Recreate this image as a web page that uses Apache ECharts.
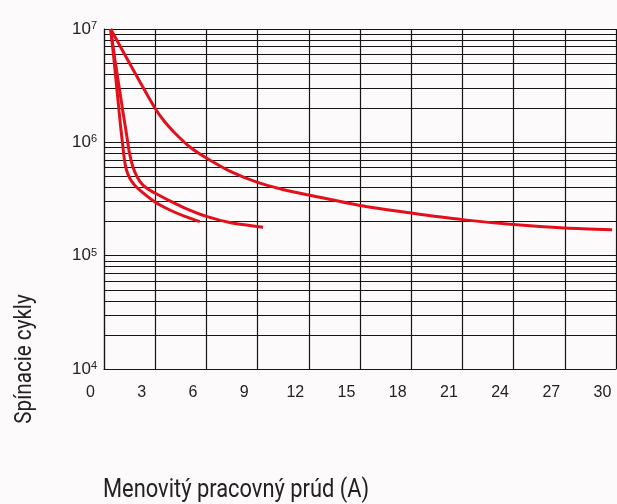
<!DOCTYPE html>
<html>
<head>
<meta charset="utf-8">
<script src="https://cdn.jsdelivr.net/npm/echarts@6/dist/echarts.min.js"></script>
<style>
html,body{margin:0;padding:0;background:#fdfafc;}
#c{width:617px;height:504px;}
</style>
</head>
<body>
<div id="c"></div>
<script>
// X tick labels (current, A)
var xTicks = [0, 3, 6, 9, 12, 15, 18, 21, 24, 27, 30];
// Y decade exponents
var yExponents = [4, 5, 6, 7];
// Minor grid multipliers per decade
var minorMultipliers = [2, 3, 4, 5, 6, 7, 8, 9];
var minorDecades = [1e4, 1e5, 1e6];

// Curve 1 (longest)
var c1x = [0.39, 1.23, 2.11, 2.98, 3.57, 4.15, 5.03, 6.0, 7.37, 9.0, 10.47, 12.0, 15.0, 18.0, 21.0, 24.0, 27.0, 29.77];
var c1y = [1.0e7, 5.9e6, 3.4e6, 2.01e6, 1.51e6, 1.21e6, 9.1e5, 7.28e5, 5.58e5, 4.43e5, 3.84e5, 3.43e5, 2.77e5, 2.38e5, 2.08e5, 1.88e5, 1.75e5, 1.69e5];
// Curve 2 (middle)
var c2x = [0.39, 0.643, 0.895, 1.111, 1.316, 1.491, 1.696, 1.93, 2.222, 2.573, 2.982, 3.86, 4.737, 6.006, 7.368, 9.316];
var c2y = [1.0e7, 5.33e6, 3.01e6, 1.85e6, 1.19e6, 8.05e5, 6.06e5, 5.0e5, 4.29e5, 3.87e5, 3.57e5, 3.04e5, 2.63e5, 2.22e5, 1.96e5, 1.78e5];
// Curve 3 (shortest)
var c3x = [0.39, 0.556, 0.702, 0.848, 0.965, 1.082, 1.199, 1.316, 1.52, 1.813, 2.398, 2.982, 3.86, 4.737, 5.614];
var c3y = [1.0e7, 5.9e6, 3.55e6, 2.13e6, 1.42e6, 9.87e5, 6.98e5, 5.7e5, 4.8e5, 4.16e5, 3.47e5, 2.98e5, 2.53e5, 2.22e5, 2.0e5];

function pairs(xs, ys){ return xs.map(function(x,i){ return [x, ys[i]]; }); }

var minorLines = [];
minorDecades.forEach(function(d){
  minorMultipliers.forEach(function(m){ minorLines.push({yAxis: m*d}); });
});

var gridColor = '#151515';
var red = '#e3101b';
var font = "'Liberation Sans', Arial, sans-serif";
var titleFont = "Roboto, 'Liberation Sans', sans-serif";

var chart = echarts.init(document.getElementById('c'), null, {renderer:'canvas'});
var lineBase = {
  type:'line', smooth:0.25, symbol:'none',
  lineStyle:{color:red, width:3}, itemStyle:{color:red},
  animation:false, z:5
};
chart.setOption({
  backgroundColor:'#fdfafc',
  animation:false,
  grid:{left:104, top:29, right:1, bottom:135, containLabel:false},
  xAxis:{
    type:'value', min:0, max:30, interval:3,
    axisLine:{show:true, lineStyle:{color:gridColor, width:1.2}},
    axisTick:{show:false},
    splitLine:{show:true, lineStyle:{color:gridColor, width:1.2}},
    axisLabel:{
      margin:16, fontSize:16, color:'#222', fontFamily:font,
      padding:[0,27,0,0],
      formatter:function(v){ return xTicks.indexOf(v) >= 0 ? String(v) : ''; }
    }
  },
  yAxis:{
    type:'log', logBase:10, min:1e4, max:1e7,
    axisLine:{show:true, lineStyle:{color:gridColor, width:1.2}},
    axisTick:{show:false},
    splitLine:{show:true, lineStyle:{color:gridColor, width:1.2}},
    axisLabel:{
      margin:7, color:'#222', fontFamily:font,
      formatter:function(v){
        var e = Math.round(Math.log10(v));
        if (yExponents.indexOf(e) < 0) return '';
        return '{b|10}{s|' + e + '}';
      },
      rich:{
        b:{fontSize:17, lineHeight:17, color:'#222', fontFamily:font},
        s:{fontSize:11, lineHeight:11, color:'#222', fontFamily:font, verticalAlign:'top', padding:[0,0,21,0]}
      }
    }
  },
  graphic:[
    {type:'text', x:25, y:359, rotation:Math.PI/2, scaleX:0.86,
      style:{text:'Spínacie cykly', font:'24px ' + titleFont, fill:'#222', align:'center', verticalAlign:'middle'}},
    {type:'text', x:103, y:491, scaleX:0.875,
      style:{text:'Menovitý pracovný prúd (A)', font:'25px ' + titleFont, fill:'#222', align:'left', verticalAlign:'middle'}}
  ],
  series:[
    Object.assign({}, lineBase, {
      name:'c1', data:pairs(c1x, c1y),
      markLine:{
        silent:true, symbol:['none','none'], label:{show:false},
        lineStyle:{color:gridColor, width:1.2, type:'solid'},
        emphasis:{disabled:true},
        data:minorLines, animation:false, z:1
      }
    }),
    Object.assign({}, lineBase, {name:'c2', data:pairs(c2x, c2y)}),
    Object.assign({}, lineBase, {name:'c3', data:pairs(c3x, c3y)})
  ]
});
</script>
</body>
</html>
